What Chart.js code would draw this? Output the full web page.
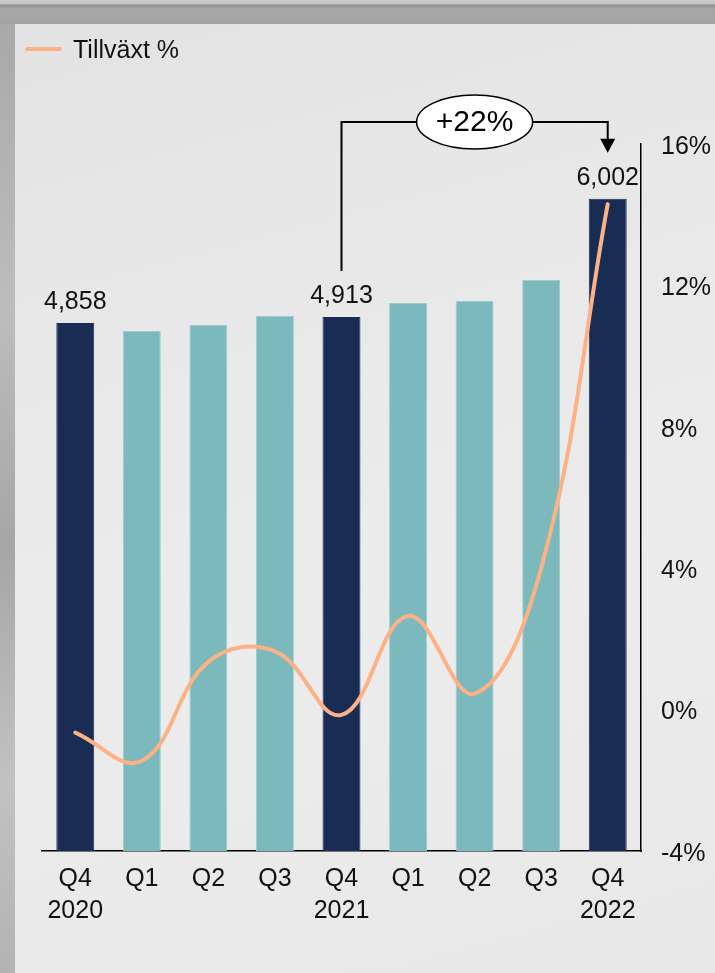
<!DOCTYPE html>
<html>
<head>
<meta charset="utf-8">
<script src="https://cdn.jsdelivr.net/npm/chart.js@4.4.1/dist/chart.umd.min.js"></script>
<style>
  html, body { margin: 0; padding: 0; }
  body {
    width: 715px; height: 973px; position: relative; overflow: hidden;
    background: linear-gradient(to bottom, #cbcbcb 0, #c4c4c4 4px, #8c8c8c 5px, #a8a8a8 9px, #a2a2a2 24px, #b0b0b0 100%);
  }
  #leftStrip {
    position: absolute; left: 0; top: 24px; width: 15px; bottom: 0;
    background: linear-gradient(to bottom, #a9a9a9, #bdbdbd 30%, #a6a6a6 55%, #c2c2c2 80%, #b3b3b3);
  }
  #panel {
    position: absolute; left: 15px; top: 24px; right: 0; bottom: 0;
    background: linear-gradient(165deg, #e3e3e3 0%, #e9e9e9 35%, #ececec 60%, #e8e8e8 100%);
  }
  #wrap { position: absolute; left: 0; top: 0; width: 715px; height: 973px; }
</style>
</head>
<body>
<div id="leftStrip"></div>
<div id="panel"></div>
<div id="wrap"><canvas id="chart"></canvas></div>
<script>
// Quarters on the x axis (two-line labels)
const quarters = [
  ["Q4", "2020"], ["Q1"], ["Q2"], ["Q3"],
  ["Q4", "2021"], ["Q1"], ["Q2"], ["Q3"],
  ["Q4", "2022"]
];

// Bar values (left, hidden axis)
const revenue = [4858, 4785, 4843, 4925, 4913, 5042, 5061, 5254, 6002];

// Growth line values in % (right axis)
const growth = [-0.65, -1.45, 1.35, 1.65, -0.15, 2.65, 0.45, 4.0, 14.3];

// Right axis range / ticks
const growthMin = -4;
const growthMax = 16;
const growthStep = 4;

const FONT = "'Liberation Sans', Arial, sans-serif";
const NAVY = "#192c54";
const TEAL = "#7bb9bc";
const PEACH = "#fdb285";

const isQ4 = i => quarters[i][0] === "Q4";

// Value labels above the Q4 bars
const barLabels = {
  id: "barLabels",
  afterDatasetsDraw(chart) {
    const ctx = chart.ctx;
    const meta = chart.getDatasetMeta(0);
    ctx.save();
    ctx.font = "25px " + FONT;
    ctx.fillStyle = "#111";
    ctx.textAlign = "center";
    ctx.textBaseline = "middle";
    meta.data.forEach((bar, i) => {
      if (!isQ4(i)) return;
      ctx.fillText(revenue[i].toLocaleString("en-US"), bar.x, bar.y - 21);
    });
    ctx.restore();
  }
};

// Bracket + ellipse showing growth between the last two Q4 bars
const growthBracket = {
  id: "growthBracket",
  afterDatasetsDraw(chart) {
    const ctx = chart.ctx;
    const meta = chart.getDatasetMeta(0);
    const from = 4, to = 8;
    const a = meta.data[from], b = meta.data[to];
    const yLine = chart.chartArea.top - 22;
    const yA = a.y - 46, yB = b.y - 46;
    ctx.save();
    ctx.strokeStyle = "#000";
    ctx.lineWidth = 2;
    ctx.beginPath();
    ctx.moveTo(a.x, yA);
    ctx.lineTo(a.x, yLine);
    ctx.lineTo(b.x, yLine);
    ctx.lineTo(b.x, yB - 12);
    ctx.stroke();
    // arrow head
    ctx.fillStyle = "#000";
    ctx.beginPath();
    ctx.moveTo(b.x - 7.5, yB - 14);
    ctx.lineTo(b.x + 7.5, yB - 14);
    ctx.lineTo(b.x, yB);
    ctx.closePath();
    ctx.fill();
    // ellipse with the percentage
    const cx = (a.x + b.x) / 2;
    ctx.beginPath();
    ctx.ellipse(cx, yLine, 58, 27, 0, 0, Math.PI * 2);
    ctx.fillStyle = "#fff";
    ctx.fill();
    ctx.lineWidth = 1.5;
    ctx.stroke();
    const pct = Math.round((revenue[to] / revenue[from] - 1) * 100);
    ctx.fillStyle = "#000";
    ctx.font = "30px " + FONT;
    ctx.textAlign = "center";
    ctx.textBaseline = "middle";
    ctx.fillText("+" + pct + "%", cx, yLine + 1);
    ctx.restore();
  }
};

// Simple legend in the top-left corner for the growth line
const lineLegend = {
  id: "lineLegend",
  afterDraw(chart) {
    const ds = chart.data.datasets[1];
    const ctx = chart.ctx;
    ctx.save();
    ctx.strokeStyle = ds.borderColor;
    ctx.lineWidth = 4;
    ctx.lineCap = "round";
    ctx.beginPath();
    ctx.moveTo(27, 49);
    ctx.lineTo(60, 49);
    ctx.stroke();
    ctx.font = "25px " + FONT;
    ctx.fillStyle = "#111";
    ctx.textBaseline = "middle";
    ctx.fillText(ds.label, 73, 51);
    ctx.restore();
  }
};

new Chart(document.getElementById("chart"), {
  data: {
    labels: quarters,
    datasets: [
      {
        type: "bar",
        label: "Omsättning",
        data: revenue,
        yAxisID: "y",
        backgroundColor: ctx => isQ4(ctx.dataIndex) ? NAVY : TEAL,
        borderColor: ctx => isQ4(ctx.dataIndex) ? NAVY : "#9cccce",
        borderWidth: { top: 1, left: 1, right: 1, bottom: 0 },
        barPercentage: 0.57,
        categoryPercentage: 1,
        order: 1
      },
      {
        type: "line",
        label: "Tillväxt %",
        data: growth,
        yAxisID: "y1",
        borderColor: PEACH,
        backgroundColor: PEACH,
        borderWidth: 4,
        borderCapStyle: "round",
        tension: 0.4,
        pointRadius: 0,
        fill: false,
        order: 0
      }
    ]
  },
  options: {
    responsive: true,
    maintainAspectRatio: false,
    animation: false,
    layout: { padding: { left: 42, right: 0, top: 144, bottom: 34 } },
    scales: {
      x: {
        grid: { display: false, drawTicks: false },
        border: { display: true, color: "#000", width: 1.5 },
        ticks: {
          color: "#111",
          padding: 12,
          maxRotation: 0,
          autoSkip: false,
          font: { size: 25, family: FONT, lineHeight: 1.28 }
        }
      },
      y: {
        display: false,
        min: 0,
        max: 6505
      },
      y1: {
        position: "right",
        min: growthMin,
        max: growthMax,
        grid: { display: false, drawTicks: false },
        border: { display: true, color: "#000", width: 1.5 },
        afterFit(scale) { scale.width = 74; },
        ticks: {
          stepSize: growthStep,
          padding: 20,
          labelOffset: 3,
          color: "#111",
          font: { size: 25, family: FONT },
          callback: v => v + "%"
        }
      }
    },
    plugins: {
      legend: { display: false },
      tooltip: { enabled: false }
    }
  },
  plugins: [barLabels, growthBracket, lineLegend]
});
</script>
</body>
</html>
